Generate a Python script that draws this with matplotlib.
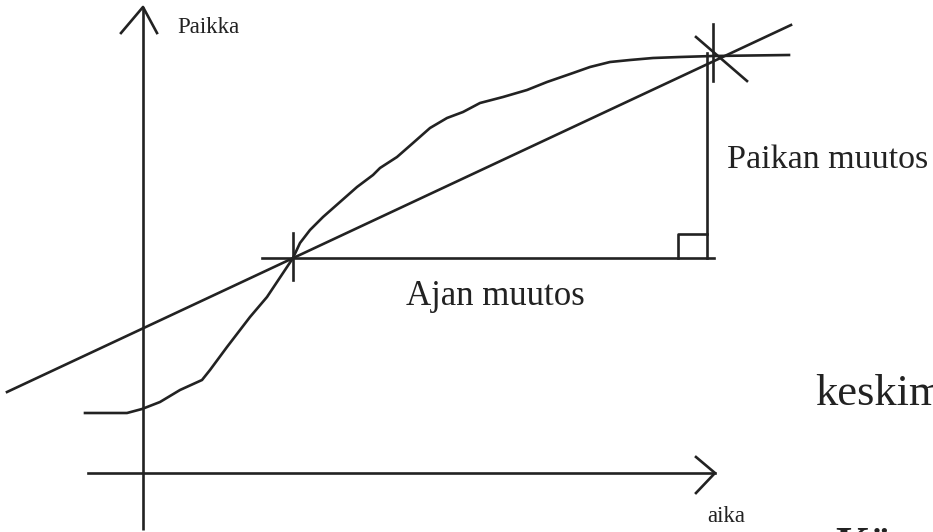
import matplotlib.pyplot as plt

# === Piirroksen data (pikselikoordinaatit, y alaspäin) ===
curve_x = [85, 127, 142, 160, 180, 202, 210, 227, 250, 267, 277, 287, 293,
           300, 310, 323, 340, 357, 373, 380, 397, 413, 430, 447, 463, 480,
           503, 527, 547, 573, 590, 610, 630, 653, 680, 713, 789]
curve_y = [413, 413, 409, 402, 390, 380, 370, 347, 317, 297, 282, 267, 258,
           243, 230, 217, 202, 187, 175, 168, 157, 143, 128, 118, 112, 103,
           97, 90, 82, 73, 67, 62, 60, 58, 57, 56, 55]

secant_x = [7, 791]
secant_y = [392, 25]

p1 = (293, 258)   # alkupiste
p2 = (713, 56)    # loppupiste
tri_x = [262, 707, 707]
tri_y = [258, 258, 53]

axis_x = 143
axis_y = 473

ink = "#222222"
lw = 1.9

fig = plt.figure(figsize=(9.33, 5.32), dpi=100)
ax = fig.add_axes([0, 0, 1, 1])
ax.set_xlim(0, 933)
ax.set_ylim(532, 0)
ax.axis("off")

# === Akselit nuolineen ===
ax.plot([axis_x, axis_x], [530, 7], color=ink, lw=lw, solid_capstyle="butt")
ax.plot([121, axis_x, 157], [33, 7, 33], color=ink, lw=lw)
ax.plot([88, 715], [axis_y, axis_y], color=ink, lw=lw)
ax.plot([696, 715, 696], [457, axis_y, 493], color=ink, lw=lw)

# === Käyrä ja sekantti ===
ax.plot(curve_x, curve_y, color=ink, lw=lw)
ax.plot(secant_x, secant_y, color=ink, lw=lw)

# === Kolmio ja suora kulma ===
ax.plot([tri_x[0], 714], [tri_y[0], tri_y[1]], color=ink, lw=lw)
ax.plot([tri_x[1], tri_x[2]], [tri_y[1], tri_y[2]], color=ink, lw=lw)
ax.plot([678, 678, 707], [258, 234, 234], color=ink, lw=lw)

# === Ristit pisteissä ===
ax.plot([p1[0], p1[0]], [233, 280], color=ink, lw=lw)
ax.plot([p2[0], p2[0]], [24, 81], color=ink, lw=lw)
ax.plot([696, 747], [37, 81], color=ink, lw=lw)

# === Tekstit ===
serif = "Liberation Serif"
ax.text(177, 33, "Paikka", fontsize=16.5, family=serif, color=ink, va="baseline")
ax.text(707, 522, "aika", fontsize=16.5, family=serif, color=ink, va="baseline")
ax.text(406, 305, "Ajan muutos", fontsize=25, family=serif, color=ink, va="baseline")
ax.text(727, 168, "Paikan muutos", fontsize=24.5, family=serif, color=ink, va="baseline")
ax.text(815, 405, "keskim", fontsize=32, family=serif, color=ink, va="baseline")
ax.text(835, 557, "Käyrä", fontsize=32, family=serif, weight="bold",
        color=ink, va="baseline")

fig.savefig("out.png", dpi=100)
